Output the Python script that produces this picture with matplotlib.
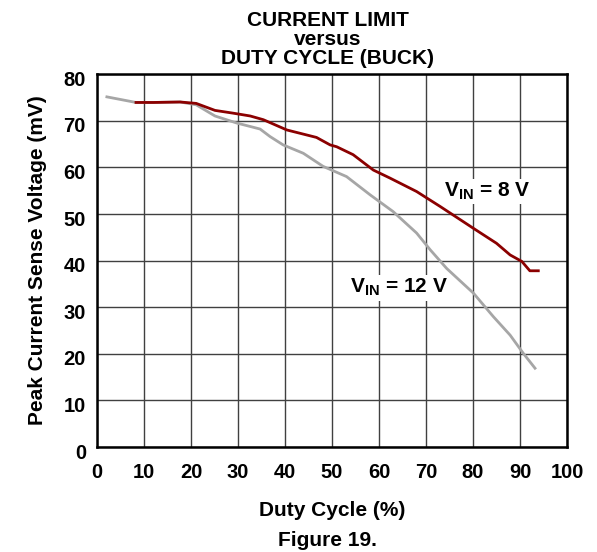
import numpy as np
import matplotlib.pyplot as plt
from matplotlib.transforms import ScaledTranslation

plt.rcParams['font.family'] = ['Liberation Sans', 'DejaVu Sans']
plt.rcParams['font.weight'] = 'bold'
plt.rcParams['mathtext.fontset'] = 'custom'
plt.rcParams['mathtext.rm'] = 'Liberation Sans:bold'
plt.rcParams['mathtext.bf'] = 'Liberation Sans:bold'
plt.rcParams['mathtext.it'] = 'Liberation Sans:bold'

# Veriler
duty_8v = [8.3, 12.0, 17.7, 21.1, 25.1, 29.0, 32.6, 35.4, 40.4, 46.7, 49.6, 51.0,
           54.5, 58.8, 62.3, 68.0, 73.0, 80.1, 85.0, 87.9, 90.4, 92.1, 93.9]
vsense_8v = [73.9, 73.9, 74.0, 73.7, 72.2, 71.6, 71.0, 70.2, 68.0, 66.4, 64.8, 64.4,
             62.7, 59.4, 57.7, 54.8, 51.6, 46.9, 43.7, 41.2, 39.8, 37.8, 37.8]

duty_12v = [2.1, 8.3, 12.0, 17.7, 21.1, 25.1, 29.7, 34.7, 36.8, 39.6, 43.9, 48.1,
            53.1, 58.1, 63.0, 68.0, 70.9, 74.4, 80.1, 84.3, 87.9, 90.7, 93.2]
vsense_12v = [75.1, 73.9, 73.9, 74.0, 73.4, 71.0, 69.5, 68.2, 66.6, 64.8, 63.0, 60.2,
              58.0, 54.1, 50.5, 45.9, 42.3, 38.3, 33.0, 28.0, 24.0, 20.1, 16.9]

xticks = list(range(0, 101, 10))
yticks = list(range(0, 81, 10))

fig = plt.figure(figsize=(5.97, 5.52), dpi=100)
ax = fig.add_axes([0.1625, 0.1902, 0.7872, 0.6757])

ax.plot(duty_12v, vsense_12v, color='#a6a6a6', lw=2.0)
ax.plot(duty_8v, vsense_8v, color='#8b0000', lw=2.0)

ax.set_xlim(0, 100)
ax.set_ylim(0, 80)
ax.set_xticks(xticks)
ax.set_yticks(yticks)
ax.tick_params(axis='x', length=0, labelsize=14.5, pad=11.5)
ax.tick_params(axis='y', length=0, labelsize=14.5, pad=8)
for lab in ax.get_xticklabels() + ax.get_yticklabels():
    lab.set_fontweight('bold')
# y etiketleri referansta biraz aşağıda
kaydir = ScaledTranslation(0, -3/72, fig.dpi_scale_trans)
for lab in ax.get_yticklabels():
    lab.set_transform(lab.get_transform() + kaydir)
ax.grid(True, color='#404040', lw=1.0)
for s in ax.spines.values():
    s.set_linewidth(1.8)
    s.set_color('black')

kutu = dict(facecolor='white', edgecolor='none', pad=1.5)
ax.text(83, 53.6, r'V$_{\mathrm{IN}}$ = 8 V', fontsize=15, fontweight='bold',
        ha='center', va='baseline', bbox=kutu)
ax.text(64.3, 33.0, r'V$_{\mathrm{IN}}$ = 12 V', fontsize=15, fontweight='bold',
        ha='center', va='baseline', bbox=kutu)

ax.set_ylabel('Peak Current Sense Voltage (mV)', fontsize=15, fontweight='bold', labelpad=12)

fig.text(0.5486, 0.9293, 'CURRENT LIMIT\nversus\nDUTY CYCLE (BUCK)', ha='center', va='center',
         fontsize=15, fontweight='bold', linespacing=1.0)
fig.text(0.557, 1 - 511/552, 'Duty Cycle (%)', ha='center', va='center', fontsize=15, fontweight='bold')
fig.text(0.5486, 1 - 540/552, 'Figure 19.', ha='center', va='center', fontsize=15, fontweight='bold')

plt.savefig('out.png', dpi=100)
